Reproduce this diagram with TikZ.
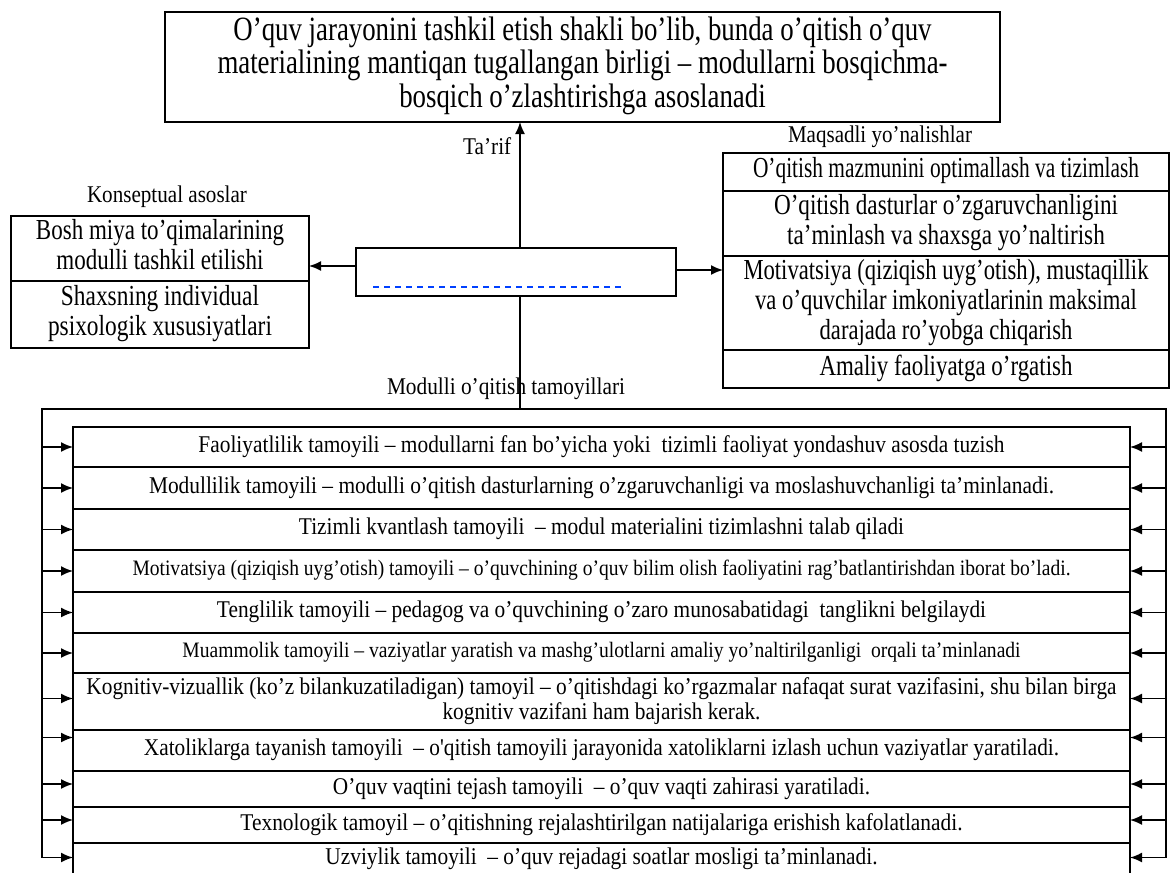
\documentclass[tikz,border=0pt]{standalone}
\usepackage{fontspec}
\setmainfont{Liberation Serif}
\usepackage{graphicx}
\usetikzlibrary{arrows.meta,positioning}
\newcommand{\fitw}[2]{\resizebox{#1}{\height}{\begin{tabular}{@{}c@{}}#2\end{tabular}}}

\begin{document}
\begin{tikzpicture}[x=0.5pt,y=-0.5pt,>={Latex[length=6pt,width=5pt]},line width=0.8pt,
  box/.style={draw,line width=1pt,inner sep=0pt,outer sep=0pt,align=center},
  sidebox/.style={box,font=\fontsize{14.5}{15}\selectfont},
  rowbox/.style={box,minimum width=528.5pt,font=\fontsize{12}{12.5}\selectfont},
  lbl/.style={inner sep=0pt,font=\fontsize{12}{13}\selectfont}]
  \useasboundingbox (0,0) rectangle (1171,872);
  % definition and centre
  \node[box,minimum width=417.5pt,minimum height=55pt,font=\fontsize{17}{16.5}\selectfont] (def) at (582.5,67)
    {\fitw{365pt}{O’quv jarayonini tashkil etish shakli bo’lib, bunda o’qitish o’quv\\
     materialining mantiqan tugallangan birligi – modullarni bosqichma-\\
     bosqich o’zlashtirishga asoslanadi}};
  \node[box,minimum width=160pt,minimum height=24pt] (core) at (516,272) {};
  \draw[blue!75!cyan,line width=0.9pt,dash pattern=on 3pt off 2.5pt] (373,287) -- (621,287);
  % conceptual basis
  \node[lbl] (klbl) at (167,197) {\fitw{80pt}{Konseptual asoslar}};
  \node[sidebox,minimum width=149pt,minimum height=32.5pt] (kon1) at (160,248.5)
    {\fitw{124pt}{Bosh miya to’qimalarining\\ modulli tashkil etilishi}};
  \node[sidebox,minimum width=149pt,minimum height=33.5pt,below=0pt of kon1] (kon2)
    {\fitw{112pt}{Shaxsning individual\\ psixologik xususiyatlari}};
  % target directions
  \node[lbl] (mlbl) at (880,137) {\fitw{92pt}{Maqsadli yo’nalishlar}};
  \node[sidebox,minimum width=223pt,minimum height=19pt] (maq1) at (946,172)
    {\fitw{193pt}{O’qitish mazmunini optimallash va tizimlash}};
  \node[sidebox,minimum width=223pt,minimum height=32.5pt,below=0pt of maq1] (maq2)
    {\fitw{172pt}{O’qitish dasturlar o’zgaruvchanligini\\ ta’minlash va shaxsga yo’naltirish}};
  \node[sidebox,minimum width=223pt,minimum height=47pt,below=0pt of maq2] (maq3)
    {\fitw{202.5pt}{Motivatsiya (qiziqish uyg’otish), mustaqillik\\ va o’quvchilar imkoniyatlarinin maksimal\\ darajada ro’yobga chiqarish}};
  \node[sidebox,minimum width=223pt,minimum height=19pt,below=0pt of maq3] (maq4)
    {\fitw{126.5pt}{Amaliy faoliyatga o’rgatish}};
  % principles
  \node[lbl] (tlbl) at (506,389) {\fitw{119pt}{Modulli o’qitish tamoyillari}};
  \node[rowbox,minimum height=20pt] (t1) at (601.5,447)
    {\fitw{403pt}{Faoliyatlilik tamoyili – modullarni fan bo’yicha yoki\ \ tizimli faoliyat yondashuv asosda tuzish}};
  \node[rowbox,minimum height=21pt,below=0pt of t1] (t2)
    {\fitw{452.5pt}{Modullilik tamoyili – modulli o’qitish dasturlarning o’zgaruvchanligi va moslashuvchanligi ta’minlanadi.}};
  \node[rowbox,minimum height=20.5pt,below=0pt of t2] (t3)
    {\fitw{302.5pt}{Tizimli kvantlash tamoyili\ \ – modul materialini tizimlashni talab qiladi}};
  \node[rowbox,minimum height=21pt,below=0pt of t3,font=\fontsize{11}{12}\selectfont] (t4)
    {\fitw{469pt}{Motivatsiya (qiziqish uyg’otish) tamoyili – o’quvchining o’quv bilim olish faoliyatini rag’batlantirishdan iborat bo’ladi.}};
  \node[rowbox,minimum height=20.5pt,below=0pt of t4] (t5)
    {\fitw{384.5pt}{Tenglilik tamoyili – pedagog va o’quvchining o’zaro munosabatidagi\ \ tanglikni belgilaydi}};
  \node[rowbox,minimum height=20pt,below=0pt of t5,font=\fontsize{11}{12}\selectfont] (t6)
    {\fitw{419pt}{Muammolik tamoyili – vaziyatlar yaratish va mashg’ulotlarni amaliy yo’naltirilganligi\ \ orqali ta’minlanadi}};
  \node[rowbox,minimum height=28.5pt,below=0pt of t6] (t7)
    {\fitw{515pt}{Kognitiv-vizuallik (ko’z bilankuzatiladigan) tamoyil – o’qitishdagi ko’rgazmalar nafaqat surat vazifasini, shu bilan birga\\ kognitiv vazifani ham bajarish kerak.}};
  \node[rowbox,minimum height=20.5pt,below=0pt of t7] (t8)
    {\fitw{457.5pt}{Xatoliklarga tayanish tamoyili\ \ – o\textquotesingle qitish tamoyili jarayonida xatoliklarni izlash uchun vaziyatlar yaratiladi.}};
  \node[rowbox,minimum height=18pt,below=0pt of t8] (t9)
    {\fitw{268.5pt}{O’quv vaqtini tejash tamoyili\ \ – o’quv vaqti zahirasi yaratiladi.}};
  \node[rowbox,minimum height=18pt,below=0pt of t9] (t10)
    {\fitw{361pt}{Texnologik tamoyil – o’qitishning rejalashtirilgan natijalariga erishish kafolatlanadi.}};
  \node[rowbox,minimum height=16.5pt,below=0pt of t10] (t11)
    {\fitw{276pt}{Uzviylik tamoyili\ \ – o’quv rejadagi soatlar mosligi ta’minlanadi.}};
  % connectors
  \draw[->] ([xshift=2pt]core.north) -- ([xshift=2pt]core.north |- def.south)
    node[pos=0.78,left=4pt,lbl] (tarif) {\fitw{24pt}{Ta’rif}};
  \draw[->] ([yshift=3pt]core.west) -- ([yshift=3pt]core.west -| kon1.east);
  \draw[->] ([yshift=1pt]core.east) -- ([yshift=1pt]core.east -| maq3.west);
  \coordinate (fnw) at (42,409);
  \coordinate (fne) at (1166,409);
  \draw ([xshift=2pt]core.south) -- ([xshift=2pt]core.south |- fnw);
  \draw ([yshift=1pt]fnw |- t11.west) -- (fnw) -- (fne) -- ([yshift=1pt]fne |- t11.east);
  \foreach \r/\dy in {t1/0,t2/0,t3/0,t4/0,t5/0,t6/0,t7/1.5,t8/6.5,t9/2.5,t10/2.5,t11/1}{
    \draw[->] ([yshift=\dy pt]fnw |- \r.west) -- ([yshift=\dy pt]\r.west);
    \draw[->] ([yshift=\dy pt]fne |- \r.east) -- ([yshift=\dy pt]\r.east);
  }
\end{tikzpicture}
\end{document}
